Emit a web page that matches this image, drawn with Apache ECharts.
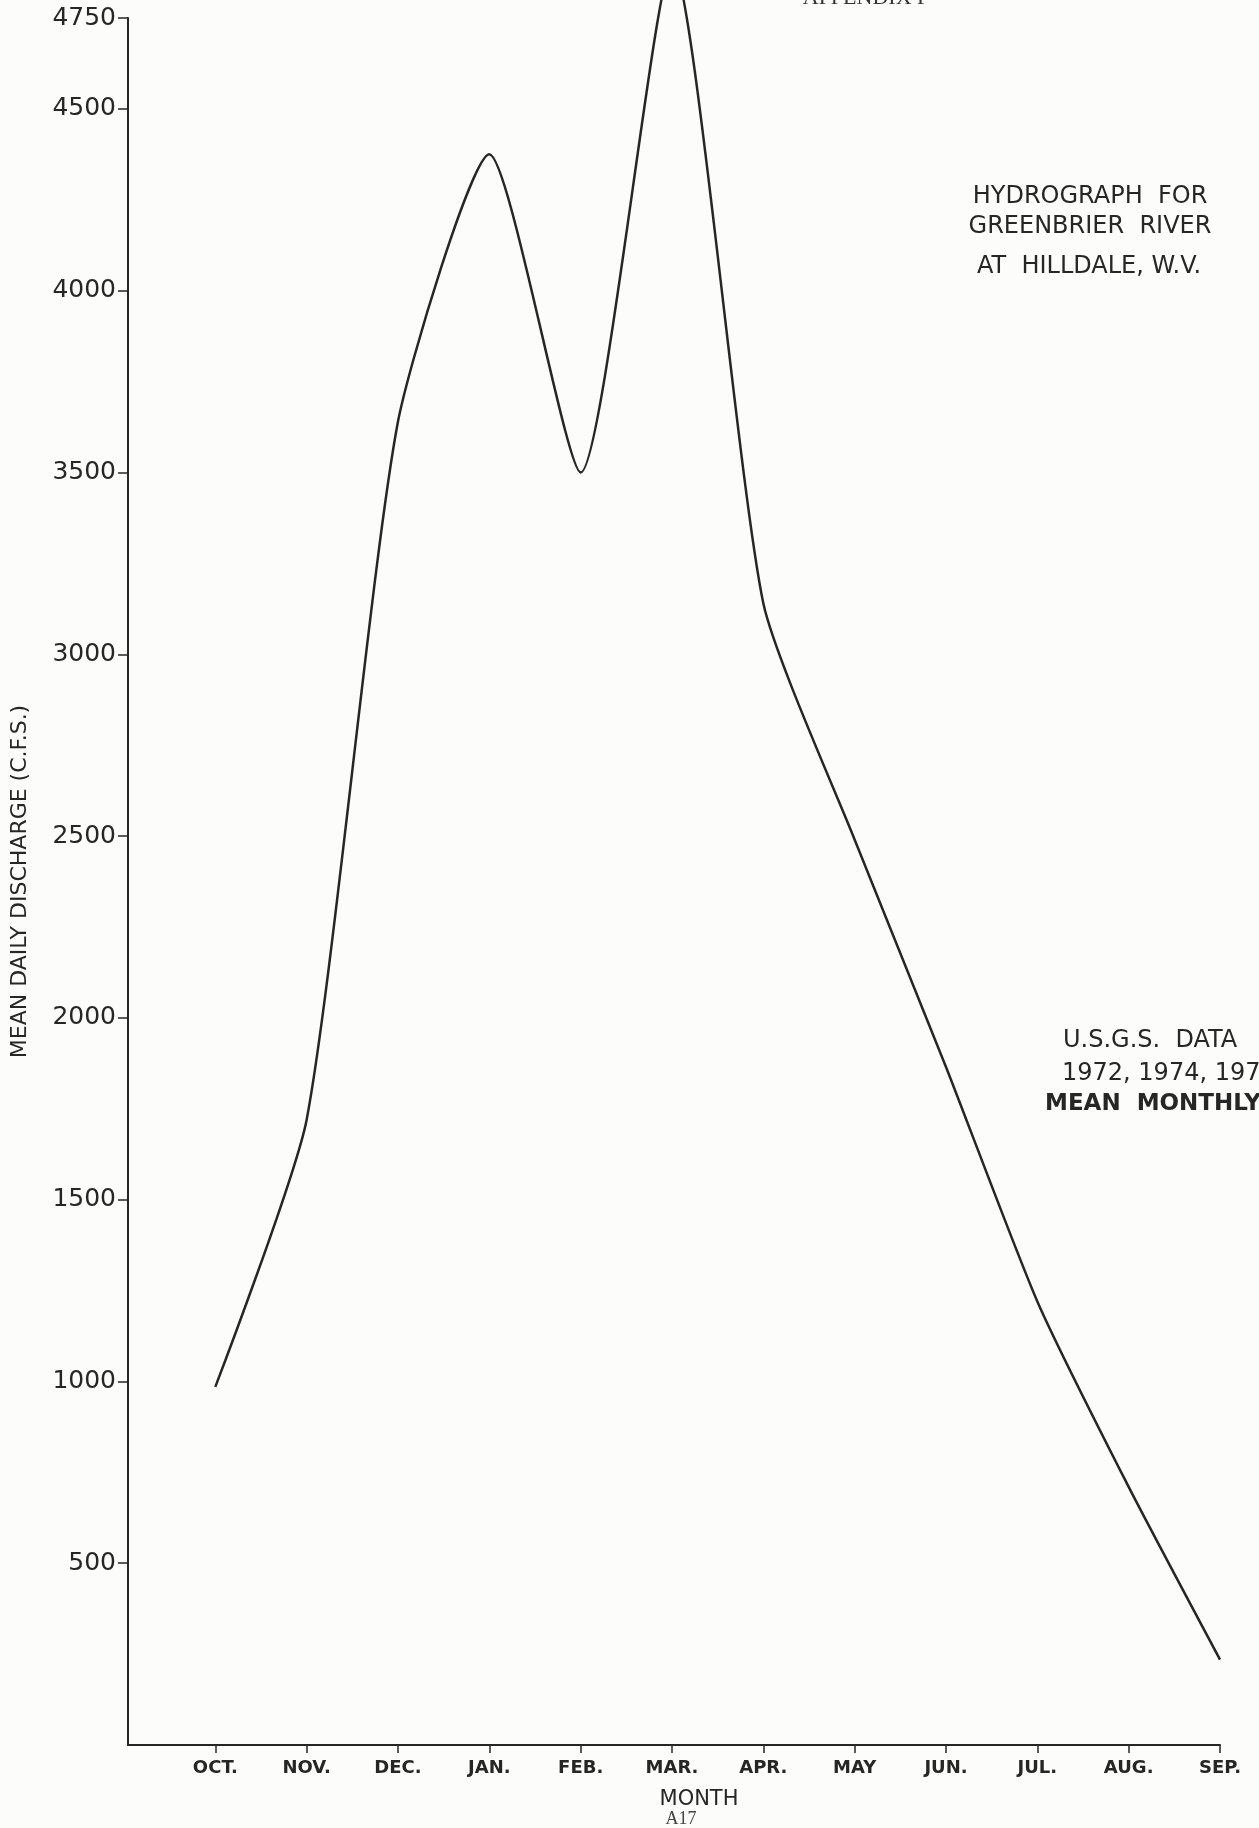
<!DOCTYPE html>
<html>
<head>
<meta charset="utf-8">
<script src="https://cdn.jsdelivr.net/npm/echarts@6/dist/echarts.min.js"></script>
<style>
  html, body { margin: 0; padding: 0; background: #fcfcfa; }
  #chart { width: 1259px; height: 1828px; }
</style>
</head>
<body>
<div id="chart"></div>
<script>
// Month categories (water year)
const months = ['OCT.', 'NOV.', 'DEC.', 'JAN.', 'FEB.', 'MAR.', 'APR.', 'MAY', 'JUN.', 'JUL.', 'AUG.', 'SEP.'];
// Mean daily discharge (C.F.S.)
const discharge = [985, 1720, 3640, 4375, 3500, 4900, 3140, 2490, 1865, 1220, 710, 235];
// Y-axis tick labels shown
const yTicks = [500, 1000, 1500, 2000, 2500, 3000, 3500, 4000, 4500, 4750];
// X tick positions (month indices)
const xTicks = months.map((m, i) => i);

const INK = '#262626';
const SANS = '"DejaVu Sans", "Noto Sans", sans-serif';

const chart = echarts.init(document.getElementById('chart'), null, { renderer: 'canvas' });

chart.setOption({
  backgroundColor: '#fcfcfa',
  animation: false,
  grid: { left: 128, right: 39, top: 18, bottom: 83, containLabel: false, outerBoundsMode: 'none' },
  xAxis: {
    type: 'value',
    min: -0.956,
    max: 11,
    axisLine: { show: true, lineStyle: { color: INK, width: 2 } },
    axisTick: { show: true, customValues: xTicks, length: 8, lineStyle: { color: INK, width: 1.5 } },
    axisLabel: {
      show: true,
      customValues: xTicks,
      formatter: (v) => months[Math.round(v)] || '',
      margin: 14,
      fontSize: 18,
      fontWeight: 'bold',
      fontFamily: SANS,
      color: INK
    },
    splitLine: { show: false }
  },
  yAxis: {
    type: 'value',
    min: 0,
    max: 4750,
    name: 'MEAN DAILY DISCHARGE (C.F.S.)',
    nameLocation: 'middle',
    nameRotate: 90,
    nameGap: 97,
    nameTextStyle: { fontSize: 22, fontFamily: SANS, color: INK, fontWeight: 500 },
    axisLine: { show: true, onZero: false, lineStyle: { color: INK, width: 2 } },
    axisTick: { show: true, customValues: yTicks, length: 10, lineStyle: { color: INK, width: 1.5 } },
    axisLabel: {
      show: true,
      customValues: yTicks,
      formatter: (v) => String(v),
      margin: 12,
      fontSize: 25,
      fontFamily: SANS,
      color: INK
    },
    splitLine: { show: false }
  },
  series: [{
    type: 'line',
    data: months.map((m, i) => [i, discharge[i]]),
    smooth: 0.2,
    showSymbol: false,
    clip: false,
    lineStyle: { color: INK, width: 2.5 }
  }],
  graphic: [
    { type: 'text', x: 866, y: 9,
      style: { text: 'APPENDIX F', font: '22px "Liberation Serif", serif', fill: '#333', align: 'center', verticalAlign: 'bottom' } },
    { type: 'text', x: 1090, y: 197,
      style: { text: 'HYDROGRAPH  FOR', font: '24px ' + SANS, fill: INK, align: 'center', verticalAlign: 'middle' } },
    { type: 'text', x: 1090, y: 227,
      style: { text: 'GREENBRIER  RIVER', font: '24px ' + SANS, fill: INK, align: 'center', verticalAlign: 'middle' } },
    { type: 'text', x: 1089, y: 267,
      style: { text: 'AT  HILLDALE, W.V.', font: '24px ' + SANS, fill: INK, align: 'center', verticalAlign: 'middle' } },
    { type: 'text', x: 1063, y: 1041,
      style: { text: 'U.S.G.S.  DATA', font: '24px ' + SANS, fill: INK, align: 'left', verticalAlign: 'middle' } },
    { type: 'text', x: 1062, y: 1074,
      style: { text: '1972, 1974, 1976', font: '24px ' + SANS, fill: INK, align: 'left', verticalAlign: 'middle' } },
    { type: 'text', x: 1045, y: 1104,
      style: { text: 'MEAN  MONTHLY', font: 'bold 23px ' + SANS, fill: INK, align: 'left', verticalAlign: 'middle' } },
    { type: 'text', x: 699, y: 1800,
      style: { text: 'MONTH', font: '21px ' + SANS, fill: INK, align: 'center', verticalAlign: 'middle' } },
    { type: 'text', x: 681, y: 1819,
      style: { text: 'A17', font: '18px "Liberation Serif", serif', fill: '#444', align: 'center', verticalAlign: 'middle' } }
  ]
});
</script>
</body>
</html>
